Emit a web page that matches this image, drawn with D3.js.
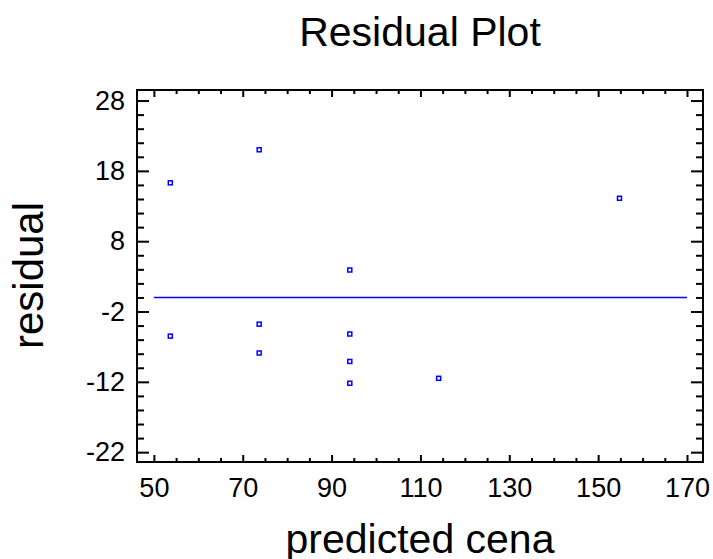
<!DOCTYPE html>
<html>
<head>
<meta charset="utf-8">
<script src="https://cdn.jsdelivr.net/npm/d3@7"></script>
<style>
  body { margin: 0; background: #fff; }
  svg text { font-family: "Liberation Sans", Arial, sans-serif; }
</style>
</head>
<body>
<div id="chart"></div>
<script>
// data
var predicted = [53.7, 53.7, 73.7, 73.7, 73.7, 94.1, 94.1, 94.1, 94.1, 114.1, 154.8];
var residual  = [16.3, -5.5, 21.0, -3.8, -7.9, 3.9, -5.2, -9.1, -12.2, -11.5, 14.1];
var xTicks = [50, 70, 90, 110, 130, 150, 170];
var yTicks = [-22, -12, -2, 8, 18, 28];
var zeroLine = [50, 170];

var width = 713, height = 559;
var box = {left: 137, right: 703, top: 90, bottom: 462};

var svg = d3.select("#chart").append("svg")
    .attr("width", width)
    .attr("height", height);

var x = d3.scaleLinear().domain([46.2, 173.6]).range([box.left, box.right]);
var y = d3.scaleLinear().domain([-23.4, 29.5]).range([box.bottom, box.top]);

var xMinor = d3.range(50, 171, 5).filter(function(v) { return xTicks.indexOf(v) < 0; });
var yMinor = d3.range(-22, 29, 2).filter(function(v) { return yTicks.indexOf(v) < 0; });

// plain hyphen for negatives, like the original
var plain = function(d) { return String(d); };

function styleAxis(g) {
    g.select(".domain").remove();
    g.selectAll(".tick line").attr("stroke", "#000").attr("stroke-width", 2);
    g.selectAll(".tick text")
        .attr("fill", "#000")
        .style("font-size", "27px")
        .style("font-family", "'Liberation Sans', Arial, sans-serif");
}

// bottom
svg.append("g").attr("transform", "translate(0," + box.bottom + ")")
    .call(d3.axisBottom(x).tickValues(xTicks).tickFormat(plain).tickSizeInner(-7).tickSizeOuter(0).tickPadding(16))
    .call(styleAxis);
svg.append("g").attr("transform", "translate(0," + box.bottom + ")")
    .call(d3.axisBottom(x).tickValues(xMinor).tickSizeInner(-4).tickSizeOuter(0).tickFormat(""))
    .call(styleAxis);
// top
svg.append("g").attr("transform", "translate(0," + box.top + ")")
    .call(d3.axisTop(x).tickValues(xTicks).tickSizeInner(-7).tickSizeOuter(0).tickFormat(""))
    .call(styleAxis);
svg.append("g").attr("transform", "translate(0," + box.top + ")")
    .call(d3.axisTop(x).tickValues(xMinor).tickSizeInner(-4).tickSizeOuter(0).tickFormat(""))
    .call(styleAxis);
// left
svg.append("g").attr("transform", "translate(" + box.left + ",0)")
    .call(d3.axisLeft(y).tickValues(yTicks).tickFormat(plain).tickSizeInner(-12).tickSizeOuter(0).tickPadding(12))
    .call(styleAxis);
svg.append("g").attr("transform", "translate(" + box.left + ",0)")
    .call(d3.axisLeft(y).tickValues(yMinor).tickSizeInner(-7).tickSizeOuter(0).tickFormat(""))
    .call(styleAxis);
// right
svg.append("g").attr("transform", "translate(" + box.right + ",0)")
    .call(d3.axisRight(y).tickValues(yTicks).tickSizeInner(-12).tickSizeOuter(0).tickFormat(""))
    .call(styleAxis);
svg.append("g").attr("transform", "translate(" + box.right + ",0)")
    .call(d3.axisRight(y).tickValues(yMinor).tickSizeInner(-7).tickSizeOuter(0).tickFormat(""))
    .call(styleAxis);

// frame
svg.append("rect")
    .attr("x", box.left).attr("y", box.top)
    .attr("width", box.right - box.left).attr("height", box.bottom - box.top)
    .attr("fill", "none").attr("stroke", "#000").attr("stroke-width", 2);

// zero line
svg.append("line")
    .attr("x1", x(zeroLine[0])).attr("x2", x(zeroLine[1]))
    .attr("y1", y(0)).attr("y2", y(0))
    .attr("stroke", "#0000ff").attr("stroke-width", 1.5);

// points
svg.append("g").selectAll("rect")
    .data(predicted)
    .enter()
    .append("rect")
    .attr("x", function(d) { return x(d) - 2; })
    .attr("y", function(d, i) { return y(residual[i]) - 2; })
    .attr("width", 4).attr("height", 4)
    .attr("fill", "#fff")
    .attr("stroke", "#0000ff")
    .attr("stroke-width", 1.5);

// titles
svg.append("text")
    .attr("x", (box.left + box.right) / 2).attr("y", 46)
    .attr("text-anchor", "middle")
    .style("font-size", "41px")
    .text("Residual Plot");

svg.append("text")
    .attr("x", (box.left + box.right) / 2).attr("y", 553)
    .attr("text-anchor", "middle")
    .style("font-size", "41px")
    .text("predicted cena");

svg.append("text")
    .attr("transform", "translate(43,275.5) rotate(-90)")
    .attr("text-anchor", "middle")
    .style("font-size", "42px")
    .text("residual");
</script>
</body>
</html>
